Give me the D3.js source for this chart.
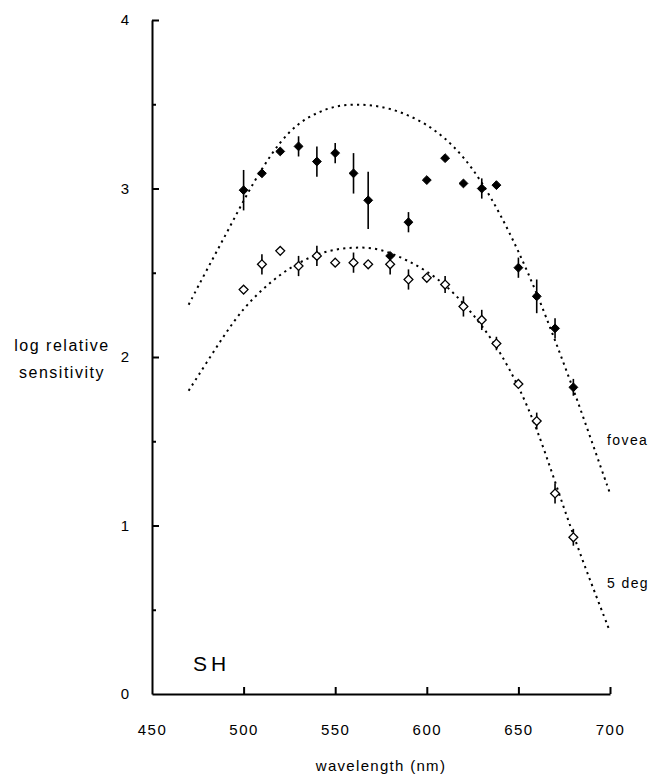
<!DOCTYPE html>
<html>
<head>
<meta charset="utf-8">
<script src="https://cdn.jsdelivr.net/npm/d3@7"></script>
<style>
  body { margin:0; background:#fff; }
  svg { display:block; font-family:"Liberation Sans", Arial, Helvetica, sans-serif; }
  .axis path, .axis line { stroke:#000; }
  .axis text { fill:#000; }
</style>
</head>
<body>
<div id="chart"></div>
<script>
// 1) Data (log relative sensitivity vs wavelength in nm)
const foveaWl  = [500, 510, 520, 530, 540, 550, 560, 568, 580, 590, 600, 610, 620, 630, 638, 650, 660, 670, 680];
const foveaVal = [2.99,3.09,3.22,3.25,3.16,3.21,3.09,2.93,2.60,2.80,3.05,3.18,3.03,3.00,3.02,2.53,2.36,2.17,1.82];
const foveaErr = [0.12,0.02,0,   0.06,0.09,0.06,0.12,0.17,0,   0.06,0,   0,   0,   0.06,0,   0.06,0.10,0.06,0.05];

const degWl  = [500, 510, 520, 530, 540, 550, 560, 568, 580, 590, 600, 610, 620, 630, 638, 650, 660, 670, 680];
const degVal = [2.40,2.55,2.63,2.54,2.60,2.56,2.56,2.55,2.55,2.46,2.47,2.43,2.30,2.22,2.08,1.84,1.62,1.19,0.93];
const degErr = [0,   0.06,0,   0.06,0.06,0,   0.06,0,   0.06,0.06,0,   0.05,0.06,0.06,0.04,0,   0.05,0.06,0.05];

// dotted template curves
const curveWl    = [470, 480, 490, 500, 510, 520, 530, 540, 550, 560, 570, 580, 590, 600, 610, 620, 630, 640, 650, 660, 670, 680, 690, 700];
const foveaCurve = [2.31,2.52,2.72,2.93,3.12,3.28,3.39,3.45,3.49,3.50,3.495,3.475,3.435,3.38,3.30,3.19,3.04,2.85,2.63,2.38,2.10,1.81,1.50,1.19];
const degCurve   = [1.80,1.97,2.14,2.29,2.40,2.49,2.56,2.61,2.64,2.65,2.65,2.62,2.57,2.51,2.43,2.32,2.19,2.03,1.83,1.58,1.26,0.94,0.65,0.37];

const xTicks = [450, 500, 550, 600, 650, 700];
const yTicks = [0, 1, 2, 3, 4];
const yMinorTicks = [0.5, 1.5, 2.5, 3.5];

// 2) Layout
const W = 653, H = 776;
const x = d3.scaleLinear().domain([450, 700]).range([152, 610]);
const y = d3.scaleLinear().domain([0, 4]).range([694, 20]);

const svg = d3.select('#chart').append('svg')
  .attr('width', W).attr('height', H)
  .attr('viewBox', `0 0 ${W} ${H}`);

// axes
const xAxis = svg.append('g').attr('class','axis')
  .attr('transform', `translate(0,${y(0)})`)
  .call(d3.axisBottom(x).tickValues(xTicks).tickSizeInner(-7).tickSizeOuter(0).tickPadding(30));
xAxis.select('.domain').attr('stroke-width', 2);
xAxis.selectAll('.tick line').attr('stroke-width', 2);
xAxis.selectAll('.tick').filter(d => d === 450).select('line').remove();
xAxis.selectAll('text').attr('font-size', 15).attr('letter-spacing', 1.5);

const yAxis = svg.append('g').attr('class','axis')
  .attr('transform', `translate(${x(450)},0)`)
  .call(d3.axisLeft(y).tickValues(yTicks).tickFormat(d3.format('d'))
    .tickSizeInner(-7).tickSizeOuter(0).tickPadding(23));
yAxis.select('.domain').attr('stroke-width', 2);
yAxis.selectAll('.tick line').attr('stroke-width', 2);
yAxis.selectAll('.tick').filter(d => d === 0).select('line').remove();
yAxis.selectAll('text').attr('font-size', 15);

const yMinor = svg.append('g').attr('class','axis')
  .attr('transform', `translate(${x(450)},0)`)
  .call(d3.axisLeft(y).tickValues(yMinorTicks).tickSizeInner(-4).tickSizeOuter(0).tickFormat(''));
yMinor.select('.domain').remove();
yMinor.selectAll('.tick line').attr('stroke-width', 2);

// axis titles
svg.append('text').attr('x', 62).attr('y', 351).attr('text-anchor','middle')
  .attr('font-size', 16).attr('letter-spacing', 1.5).text('log relative');
svg.append('text').attr('x', 62).attr('y', 378).attr('text-anchor','middle')
  .attr('font-size', 16).attr('letter-spacing', 1.5).text('sensitivity');
svg.append('text').attr('x', x(575)).attr('y', 771).attr('text-anchor','middle')
  .attr('font-size', 15).attr('letter-spacing', 1.3).text('wavelength (nm)');

// 3) Curves
const line = d3.line().x(d => x(d[0])).y(d => y(d[1])).curve(d3.curveBasis);
[foveaCurve, degCurve].forEach(c => {
  svg.append('path')
    .datum(curveWl.map((w, i) => [w, c[i]]))
    .attr('d', line)
    .attr('fill', 'none')
    .attr('stroke', '#000')
    .attr('stroke-width', 2)
    .attr('stroke-dasharray', '2.2,4.2');
});

// 4) Points with error bars
const diamond = d3.symbol().type(d3.symbolDiamond2).size(50);
function drawSeries(wl, val, err, filled) {
  const pts = wl.map((w, i) => ({w, v: val[i], e: err[i]}));
  const g = svg.append('g');
  g.selectAll('line').data(pts.filter(d => d.e > 0)).enter().append('line')
    .attr('x1', d => x(d.w)).attr('x2', d => x(d.w))
    .attr('y1', d => y(d.v + d.e)).attr('y2', d => y(d.v - d.e))
    .attr('stroke', '#000').attr('stroke-width', 1.6);
  g.selectAll('path').data(pts).enter().append('path')
    .attr('d', diamond)
    .attr('transform', d => `translate(${x(d.w)},${y(d.v)})`)
    .attr('fill', filled ? '#000' : '#fff')
    .attr('stroke', '#000')
    .attr('stroke-width', filled ? 1 : 1.3);
}
drawSeries(degWl, degVal, degErr, false);
drawSeries(foveaWl, foveaVal, foveaErr, true);

// 5) Labels
svg.append('text').attr('x', 607).attr('y', 445).attr('font-size', 14).attr('letter-spacing', 1.4).text('fovea');
svg.append('text').attr('x', 607).attr('y', 588).attr('font-size', 14).attr('letter-spacing', 1.4).text('5 deg');
svg.append('text').attr('x', 193).attr('y', 671).attr('font-size', 21).attr('letter-spacing', 4).text('SH');
</script>
</body>
</html>
